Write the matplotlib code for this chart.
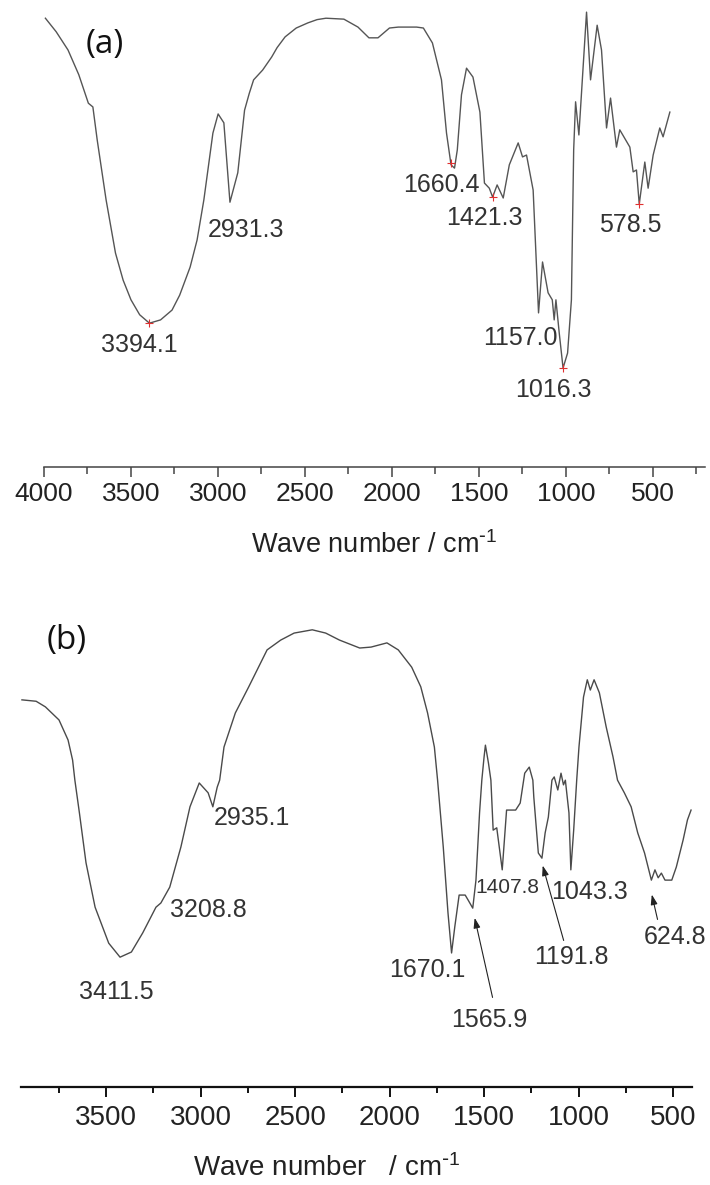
import numpy as np
import matplotlib
matplotlib.use("Agg")
import matplotlib.pyplot as plt
from matplotlib.ticker import MultipleLocator

plt.rcParams['font.family'] = ['Liberation Sans', 'DejaVu Sans']
plt.rcParams['mathtext.default'] = 'regular'

# ---- spectrum (a) : wave number / transmittance (arb.)
wn_a = [3992, 3930, 3862, 3800, 3745, 3719, 3694, 3643, 3589, 3545, 3500, 3450, 3394, 3330,
        3264, 3220, 3160, 3120, 3081, 3029, 2999, 2966, 2931, 2886, 2847, 2820, 2795,
        2743, 2691, 2660, 2614, 2550, 2483, 2430, 2379, 2276, 2195, 2132, 2080, 2014, 1963, 1858,
        1819, 1767, 1715, 1686, 1660, 1640, 1624, 1600, 1571, 1534, 1494, 1468,
        1440, 1421, 1395, 1360, 1325, 1274, 1249, 1226, 1188, 1157, 1134, 1102,
        1078, 1067, 1057, 1038, 1016, 990, 968, 955, 944, 925, 881, 858, 820,
        795, 766, 743, 709, 690, 632, 613, 594, 578, 546, 527, 498, 460, 441, 402]
t_a = [96.1, 93.2, 89.3, 84.0, 77.9, 77.1, 70.0, 57.2, 45.8, 40.0, 35.8, 32.6, 30.8, 31.5,
       33.6, 36.8, 42.8, 48.6, 57.2, 71.5, 75.6, 73.7, 56.7, 63.0, 76.4, 80.0, 82.9,
       85.0, 87.8, 89.8, 92.1, 94.0, 95.1, 95.8, 96.1, 95.9, 94.2, 91.9, 91.9, 94.0, 94.2, 94.2,
       94.0, 90.8, 82.9, 71.5, 64.7, 64.0, 67.9, 79.7, 85.4, 83.5, 76.0, 60.8,
       59.7, 57.8, 60.4, 57.6, 64.7, 69.4, 66.4, 66.8, 59.3, 33.0, 43.9, 37.3,
       35.8, 31.5, 35.8, 28.7, 21.2, 24.4, 35.8, 67.9, 78.2, 71.1, 97.4, 82.9, 94.6,
       89.3, 72.6, 79.0, 68.5, 72.2, 68.5, 63.2, 63.6, 56.3, 65.3, 59.7, 66.8, 72.6, 70.7, 76.0]

peaks_a = [3394.1, 2931.3, 1660.4, 1421.3, 1157.0, 1016.3, 578.5]
mark_a = [True, False, True, True, False, True, True]
mark_t_a = [30.8, 56.7, 65.1, 57.8, 33.0, 21.2, 56.3]
lab_x_a = [3454, 2839, 1713, 1471, 1264, 1069, 632]
lab_y_a = [26.1, 50.7, 60.4, 53.3, 27.6, 16.5, 51.8]

# ---- spectrum (b)
wn_b = [3945, 3870, 3821, 3749, 3701, 3677, 3665, 3641, 3606, 3558, 3486, 3426, 3366,
        3306, 3236, 3210, 3163, 3104, 3056, 3007, 2960, 2935, 2912, 2899, 2876,
        2816, 2745, 2648, 2576, 2505, 2409, 2338, 2265, 2158, 2098, 2014, 1954,
        1883, 1835, 1799, 1763, 1746, 1716, 1691, 1672, 1655, 1632, 1600, 1584,
        1560, 1543, 1524, 1512, 1500, 1493, 1477, 1464, 1452, 1433, 1404, 1381,
        1333, 1309, 1285, 1261, 1242, 1237, 1213, 1194, 1177, 1160, 1141, 1129,
        1110, 1093, 1080, 1070, 1051, 1041, 1026, 1010, 998, 974, 954, 938, 918,
        890, 854, 818, 794, 758, 722, 687, 651, 615, 596, 579, 562, 543, 507,
        483, 447, 424, 405]
t_b = [82.9, 82.6, 81.4, 78.6, 74.3, 70.0, 65.7, 58.7, 48.0, 38.5, 30.8, 27.8, 28.9,
       33.0, 38.5, 39.4, 42.8, 51.4, 60.0, 65.1, 63.0, 60.0, 64.2, 65.7, 72.8,
       80.1, 85.7, 93.6, 95.7, 97.2, 97.9, 97.2, 95.7, 94.0, 94.2, 95.1, 93.6,
       89.9, 85.7, 80.1, 72.8, 65.7, 51.4, 37.3, 28.7, 34.3, 41.1, 41.1, 40.0,
       38.3, 44.3, 58.7, 65.7, 70.7, 73.2, 69.4, 65.7, 55.0, 55.5, 46.5, 59.3,
       59.3, 60.8, 67.2, 68.5, 65.7, 62.1, 50.1, 49.0, 54.4, 57.8, 65.7, 66.4,
       63.6, 67.2, 64.7, 65.7, 58.7, 46.5, 55.0, 65.7, 72.8, 83.5, 87.2, 85.0, 87.2,
       84.4, 77.1, 70.7, 65.7, 63.0, 60.0, 54.4, 50.1, 44.3, 46.5, 44.8, 45.8, 44.3, 44.3,
       47.1, 52.9, 57.2, 59.3]

labels_b = ['3411.5', '3208.8', '2935.1', '1670.1', '1565.9', '1407.8', '1191.8', '1043.3', '624.8']
lab_x_b = [3447, 2961, 2729, 1799, 1472, 1376, 1038, 943, 489]
lab_y_b = [20.3, 37.9, 57.6, 25.1, 14.3, 42.8, 27.8, 41.8, 32.1]
lab_fs_b = [18, 18, 18, 18, 18, 15, 18, 18, 18]
# arrows: (tip wn, tip T, tail wn, tail T)
arrows_b = [(1553, 36.8, 1452, 18.6), (1194, 48.0, 1075, 30.8), (616, 41.8, 579, 35.3)]

W, H = 710, 1185
fig = plt.figure(figsize=(W / 100, H / 100), dpi=100)
ax_a = fig.add_axes([44 / W, 1 - 467 / H, 661 / W, 467 / H])
ax_b = fig.add_axes([21 / W, 1 - 1087 / H, 671 / W, 467 / H])

for ax in (ax_a, ax_b):
    ax.set_ylim(0, 100)
    ax.set_yticks([])
    for s in ('left', 'right', 'top'):
        ax.spines[s].set_visible(False)
    ax.xaxis.set_major_locator(MultipleLocator(500))
    ax.xaxis.set_minor_locator(MultipleLocator(250))
    ax.patch.set_alpha(0)

# (a)
ax_a.plot(wn_a, t_a, color='#555555', lw=1.0)
ax_a.set_xlim(4000, 200)
ax_a.spines['bottom'].set_color('#444444')
ax_a.spines['bottom'].set_linewidth(1.1)
ax_a.tick_params(axis='x', which='major', direction='out', length=7, width=1.1,
                 color='#444444', labelsize=19, pad=4, labelcolor='#222222')
ax_a.tick_params(axis='x', which='minor', direction='out', length=5, width=1.1, color='#444444')
for p, m, mt, lx, ly in zip(peaks_a, mark_a, mark_t_a, lab_x_a, lab_y_a):
    if m:
        ax_a.plot(p, mt, marker='+', color='#e03030', ms=6, mew=0.8)
    ax_a.text(lx, ly, f'{p:.1f}', fontsize=18, color='#333333', ha='center', va='center')
ax_a.text(3649, 90.4, '(a)', fontsize=24, family=['Open Sans', 'DejaVu Sans'],
          color='#111111', ha='center', va='center')
ax_a.set_xlabel(r'Wave number / cm$^{\text{-}1}$', fontsize=19.5, color='#222222')
ax_a.xaxis.set_label_coords(0.5, -78 / 467)
ax_a.xaxis.label.set_va('center')

# (b)
ax_b.plot(wn_b, t_b, color='#4a4a4a', lw=1.0)
ax_b.set_xlim(3950, 400)
ax_b.spines['bottom'].set_color('#111111')
ax_b.spines['bottom'].set_linewidth(1.6)
ax_b.tick_params(axis='x', which='major', direction='out', length=7, width=1.4,
                 color='#111111', labelsize=20, pad=6, labelcolor='#222222')
ax_b.tick_params(axis='x', which='minor', direction='out', length=4, width=1.4, color='#111111')
for txt, lx, ly, fs in zip(labels_b, lab_x_b, lab_y_b, lab_fs_b):
    ax_b.text(lx, ly, txt, fontsize=fs, color='#333333', ha='center', va='center')
for tx, ty, sx, sy in arrows_b:
    ax_b.annotate('', xy=(tx, ty), xytext=(sx, sy),
                  arrowprops=dict(arrowstyle='-|>,head_length=0.6,head_width=0.2',
                                  color='#222222', lw=0.8))
ax_b.text(3710, 95.7, '(b)', fontsize=24, family=['Open Sans', 'DejaVu Sans'],
          color='#111111', ha='center', va='center')
ax_b.set_xlabel(r'Wave number   / cm$^{\text{-}1}$', fontsize=20, color='#222222')
ax_b.xaxis.set_label_coords(306 / 671, -81 / 467)
ax_b.xaxis.label.set_va('center')

fig.savefig('out.png', dpi=100)
